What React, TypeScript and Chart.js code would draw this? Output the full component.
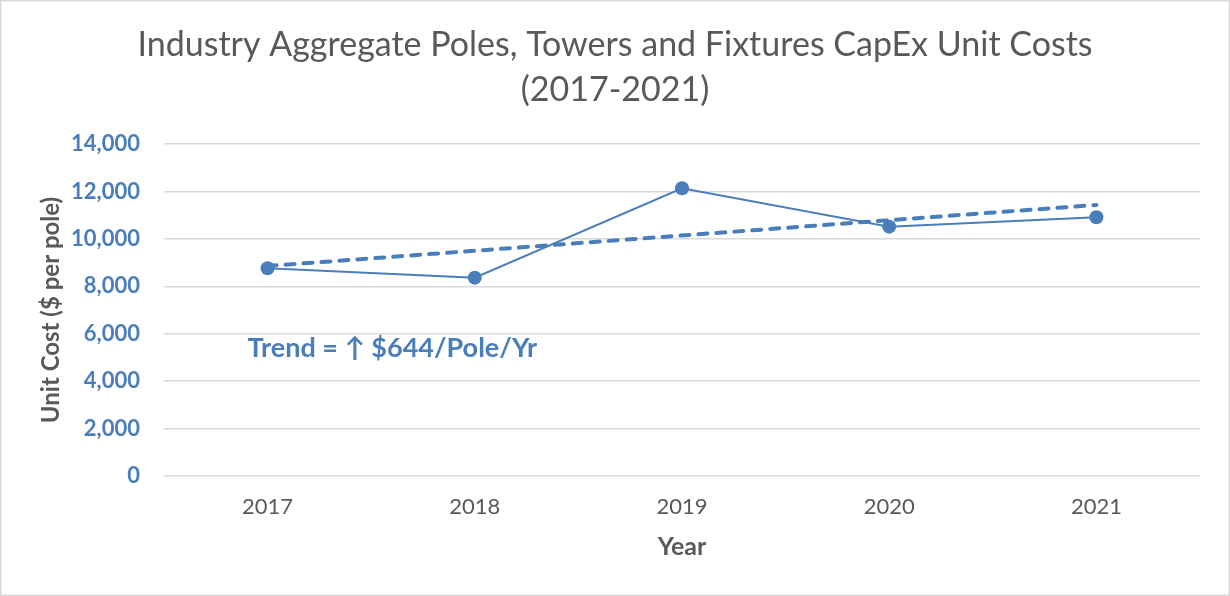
import React, { useEffect, useRef } from "react";
import { Chart, registerables } from "chart.js";

Chart.register(...registerables);

const categories = ["2017", "2018", "2019", "2020", "2021"];
const unitCost = [8760, 8365, 12135, 10515, 10910];
const trendLine = [8855, null, null, null, 11430];
const titleLines = ["Industry Aggregate Poles, Towers and Fixtures CapEx Unit Costs", "(2017-2021)"];
const annotationText = "Trend = \u2191 $644/Pole/Yr";
const yTitle = "Unit Cost ($ per pole)";
const xTitle = "Year";

const BLUE = "#4a7ebb";
const GRAY = "#595959";
const FONT = "Lato, 'Open Sans', sans-serif";

const decorPlugin = {
  id: "decor",
  beforeDraw(chart: any) {
    const { ctx, width, height } = chart;
    ctx.save();
    ctx.fillStyle = "#ffffff";
    ctx.fillRect(0, 0, width, height);
    ctx.strokeStyle = "#d9d9d9";
    ctx.lineWidth = 1.5;
    ctx.strokeRect(0.75, 0.75, width - 1.5, height - 1.5);
    ctx.fillStyle = GRAY;
    ctx.font = `400 34px ${FONT}`;
    ctx.textAlign = "center";
    ctx.textBaseline = "alphabetic";
    ctx.fillText(titleLines[0], width / 2, 56);
    ctx.fillText(titleLines[1], width / 2, 101);
    ctx.restore();
  },
  afterDatasetsDraw(chart: any) {
    const { ctx, scales } = chart;
    ctx.save();
    ctx.fillStyle = BLUE;
    ctx.font = `700 27px ${FONT}`;
    ctx.textAlign = "left";
    ctx.textBaseline = "alphabetic";
    const x = scales.x.getPixelForValue(0) - 20;
    const y = scales.y.getPixelForValue(5000);
    ctx.fillText(annotationText, x, y);
    ctx.restore();
  },
};

export default function App() {
  const ref = useRef<HTMLCanvasElement>(null);
  useEffect(() => {
    document.body.style.margin = "0";
    const chart = new Chart(ref.current as HTMLCanvasElement, {
      type: "line",
      data: {
        labels: categories,
        datasets: [
          {
            data: unitCost,
            borderColor: BLUE,
            backgroundColor: BLUE,
            borderWidth: 2,
            pointRadius: 7,
            pointBorderWidth: 0,
            pointBackgroundColor: BLUE,
            tension: 0,
            order: 0,
          },
          {
            data: trendLine,
            borderColor: BLUE,
            borderWidth: 4,
            borderDash: [9, 9],
            borderCapStyle: "round",
            pointRadius: 0,
            spanGaps: true,
            order: 1,
          },
        ],
      },
      options: {
        animation: false,
        responsive: false,
        maintainAspectRatio: false,
        layout: { padding: { top: 144, right: 30, left: 0, bottom: 0 } },
        plugins: { legend: { display: false }, tooltip: { enabled: false }, title: { display: false } },
        scales: {
          x: {
            offset: true,
            grid: { display: false, offset: true },
            border: { display: false },
            ticks: { color: GRAY, font: { family: FONT, size: 22 }, padding: 10 },
            title: { display: true, text: xTitle, color: GRAY, font: { family: FONT, size: 25, weight: "bold" }, padding: { top: 0, bottom: 34 } },
            afterFit: (s: any) => { s.height = 120; },
          },
          y: {
            min: 0,
            max: 14000,
            grid: { color: "#d9d9d9", lineWidth: 1.5, drawTicks: false },
            border: { display: false },
            ticks: {
              stepSize: 2000,
              color: BLUE,
              font: { family: FONT, size: 22, weight: "bold" },
              padding: 24,
              callback: (v: any) => Number(v).toLocaleString("en-US"),
            },
            title: { display: true, text: yTitle, color: GRAY, font: { family: FONT, size: 24, weight: "bold" }, padding: { top: 37, bottom: 0 } },
            afterFit: (s: any) => { s.width = 164; },
          },
        },
      },
      plugins: [decorPlugin],
    });
    return () => chart.destroy();
  }, []);
  return <canvas ref={ref} width={1230} height={596} style={{ display: "block", width: 1230, height: 596 }} />;
}
